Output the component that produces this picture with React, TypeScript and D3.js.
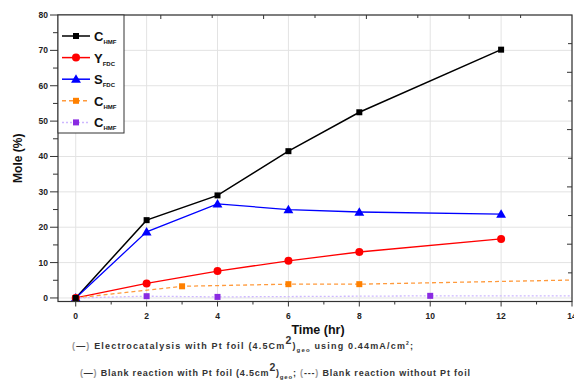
import * as d3 from "d3";
import React from "react";

// time (hr) and mole (%)
const hmfTime = [0, 2, 4, 6, 8, 12];
const hmfConv = [0, 22, 29, 41.5, 52.5, 70.2];
const fdcYield = [0, 4.1, 7.6, 10.5, 13, 16.7];
const fdcSel = [0, 18.7, 26.6, 25, 24.3, 23.7];

// blank reactions
const blankPtTime = [0, 3, 6, 8, 24];
const blankPtConv = [0, 3.3, 3.9, 3.9, 7];
const blankTime = [0, 2, 4, 10, 24];
const blankConv = [0, 0.5, 0.3, 0.6, 0.5];

const xTicks = [0, 2, 4, 6, 8, 10, 12, 14];
const yTicks = [0, 10, 20, 30, 40, 50, 60, 70, 80];

const legendItems = [
  { main: "C", sub: "HMF", color: "#000000", line: "#000000", dash: "", shape: "square" },
  { main: "Y", sub: "FDC", color: "#ff0000", line: "#ff0000", dash: "", shape: "circle" },
  { main: "S", sub: "FDC", color: "#0000ff", line: "#0000ff", dash: "", shape: "triangle" },
  { main: "C", sub: "HMF", color: "#ff8000", line: "#ff9a3c", dash: "4 3", shape: "square" },
  { main: "C", sub: "HMF", color: "#8a2be2", line: "#cdb8ff", dash: "2 2", shape: "square" },
];

const W = 574;
const H = 381;
const m = { left: 58, right: 572, top: 15, bottom: 301.5 };

function Marker({ shape, x, y, color }: { shape: string; x: number; y: number; color: string }) {
  if (shape === "circle") return <circle cx={x} cy={y} r={4} fill={color} />;
  if (shape === "triangle") {
    const s = d3.symbol(d3.symbolTriangle, 42)();
    return <path d={s ?? ""} transform={`translate(${x},${y + 0.8})`} fill={color} />;
  }
  return <rect x={x - 3} y={y - 3} width={6} height={6} fill={color} />;
}

export default function App() {
  const x = d3.scaleLinear().domain([-0.5, 14]).range([m.left, m.right]);
  const y = d3.scaleLinear().domain([-1, 80]).range([m.bottom, m.top]);
  // unlabeled secondary axes on top / right (10 divisions each)
  const xTop = d3.scaleLinear().domain([0, 10]).range([m.left, m.right]);
  const yRight = d3.scaleLinear().domain([0, 10]).range([m.bottom, m.top]);

  const line = d3
    .line<[number, number]>()
    .x((d) => x(d[0]))
    .y((d) => y(d[1]));

  const zip = (a: number[], b: number[]) => a.map((v, i) => [v, b[i]] as [number, number]);

  const series = [
    { pts: zip(hmfTime, hmfConv), ...legendItems[0], w: 1.5 },
    { pts: zip(hmfTime, fdcYield), ...legendItems[1], w: 1.3 },
    { pts: zip(hmfTime, fdcSel), ...legendItems[2], w: 1.3 },
    { pts: zip(blankPtTime, blankPtConv), ...legendItems[3], w: 1.3 },
    { pts: zip(blankTime, blankConv), ...legendItems[4], w: 1.3 },
  ];

  const axisColor = "#333";
  const gridColor = "#e3e3e3";
  const font = "'Liberation Sans', Arial, sans-serif";

  return (
    <svg
      width={W}
      height={H}
      style={{ position: "absolute", left: 0, top: 0, background: "#fff" }}
      fontFamily={font}
    >
      <defs>
        <clipPath id="plot">
          <rect x={m.left} y={m.top} width={m.right - m.left} height={m.bottom - m.top} />
        </clipPath>
      </defs>

      {/* grid */}
      {xTicks.map((t) => (
        <line key={`gx${t}`} x1={x(t)} x2={x(t)} y1={m.top} y2={m.bottom} stroke={gridColor} />
      ))}
      {yTicks.map((t) => (
        <line key={`gy${t}`} x1={m.left} x2={m.right} y1={y(t)} y2={y(t)} stroke={gridColor} />
      ))}

      {/* series */}
      <g clipPath="url(#plot)">
        {series.map((s, i) => (
          <path
            key={`l${i}`}
            d={line(s.pts) ?? ""}
            fill="none"
            stroke={s.line}
            strokeWidth={s.w}
            strokeDasharray={s.dash || undefined}
          />
        ))}
        {series
          .slice()
          .reverse()
          .map((s, i) =>
            s.pts.map((p, j) => (
              <Marker key={`m${i}-${j}`} shape={s.shape} x={x(p[0])} y={y(p[1])} color={s.color} />
            ))
          )}
      </g>

      {/* frame */}
      <rect
        x={m.left}
        y={m.top}
        width={m.right - m.left}
        height={m.bottom - m.top}
        fill="none"
        stroke={axisColor}
        strokeWidth={1.2}
      />

      {/* bottom axis */}
      {d3.range(0, 15).map((t) => (
        <line
          key={`bt${t}`}
          x1={x(t)}
          x2={x(t)}
          y1={m.bottom}
          y2={m.bottom + (t % 2 === 0 ? 5 : 3)}
          stroke={axisColor}
        />
      ))}
      {xTicks.map((t) => (
        <text
          key={`bl${t}`}
          x={x(t)}
          y={m.bottom + 17}
          textAnchor="middle"
          fontSize={8.5}
          fontWeight="bold"
          fill="#222"
        >
          {t}
        </text>
      ))}
      <text x={318} y={334} textAnchor="middle" fontSize={12.5} fontWeight="bold" fill="#111">
        Time (hr)
      </text>

      {/* left axis */}
      {d3.range(0, 85, 5).map((t) => (
        <line
          key={`lt${t}`}
          x1={m.left - (t % 10 === 0 ? 8 : 5)}
          x2={m.left}
          y1={y(t)}
          y2={y(t)}
          stroke={axisColor}
        />
      ))}
      {yTicks.map((t) => (
        <text
          key={`ll${t}`}
          x={m.left - 10}
          y={y(t)}
          dy="0.35em"
          textAnchor="end"
          fontSize={8.5}
          fontWeight="bold"
          fill="#222"
        >
          {t}
        </text>
      ))}
      <text
        transform={`translate(22,${(m.top + m.bottom) / 2}) rotate(-90)`}
        textAnchor="middle"
        fontSize={12}
        fontWeight="bold"
        fill="#111"
      >
        Mole (%)
      </text>

      {/* top axis (unlabeled) */}
      {d3.range(1, 10).map((t) => (
        <line
          key={`tt${t}`}
          x1={xTop(t)}
          x2={xTop(t)}
          y1={m.top}
          y2={m.top + (t % 2 === 0 ? 4 : 3)}
          stroke={axisColor}
        />
      ))}
      {/* right axis (unlabeled) */}
      {d3.range(1, 10).map((t) => (
        <line
          key={`rt${t}`}
          x1={m.right - (t % 2 === 0 ? 5 : 4)}
          x2={m.right}
          y1={yRight(t)}
          y2={yRight(t)}
          stroke={axisColor}
        />
      ))}

      {/* legend */}
      <rect x={m.left} y={m.top} width={66} height={118} fill="#fff" stroke={axisColor} strokeWidth={1} />
      {legendItems.map((it, i) => {
        const cy = 36 + i * 21.6;
        return (
          <g key={`lg${i}`}>
            <line
              x1={62}
              x2={90}
              y1={cy}
              y2={cy}
              stroke={it.line}
              strokeWidth={1.5}
              strokeDasharray={it.dash || undefined}
            />
            <Marker shape={it.shape} x={76} y={cy} color={it.color} />
            <text x={94} y={cy + 5} fontSize={13} fontWeight="bold" fill="#111">
              {it.main}
              <tspan fontSize={6} dy={3}>
                {it.sub}
              </tspan>
            </text>
          </g>
        );
      })}

      {/* caption */}
      <text x={72} y={349} fontSize={9} fontWeight="bold" fill="#333" textLength={341} lengthAdjust="spacing">
        <tspan fill="#999">(</tspan>—<tspan fill="#999">)</tspan> Electrocatalysis with Pt foil (4.5Cm
        <tspan fontSize={10.5} dy={-5}>2</tspan>
        <tspan dy={5}>)</tspan>
        <tspan fontSize={6} dy={3}>geo</tspan>
        <tspan dy={-3}> using 0.44mA/cm</tspan>
        <tspan fontSize={5} dy={-4}>2</tspan>
        <tspan dy={4}>;</tspan>
      </text>
      <text x={80} y={376} fontSize={9} fontWeight="bold" fill="#333" textLength={390} lengthAdjust="spacing">
        <tspan fill="#999">(</tspan>—<tspan fill="#999">)</tspan> Blank reaction with Pt foil (4.5cm
        <tspan fontSize={10.5} dy={-5}>2</tspan>
        <tspan dy={5}>)</tspan>
        <tspan fontSize={6} dy={3}>geo</tspan>
        <tspan dy={-3}>; </tspan>
        <tspan fill="#999">(</tspan>
        <tspan>---</tspan>
        <tspan fill="#999">)</tspan>
        <tspan> Blank  reaction  without Pt foil</tspan>
      </text>
    </svg>
  );
}
